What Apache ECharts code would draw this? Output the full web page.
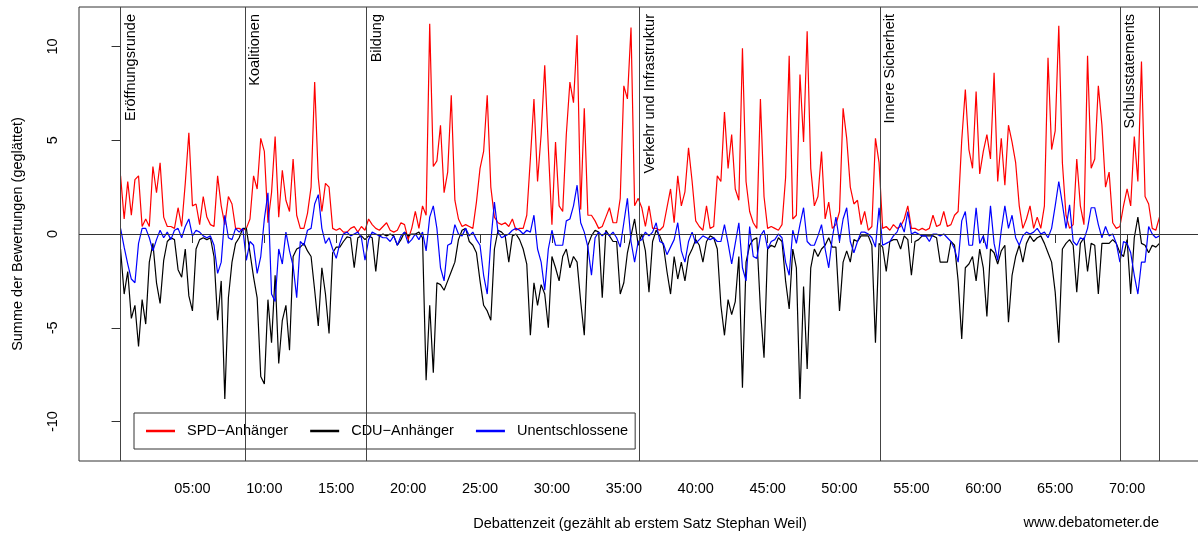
<!DOCTYPE html>
<html><head><meta charset="utf-8">
<script src="https://cdn.jsdelivr.net/npm/echarts@6/dist/echarts.min.js"></script>
<style>html,body{margin:0;padding:0;background:#fff}#c{width:1198px;height:536px}</style>
</head><body><div id="c"></div>
<script>
// sampling of the debate time axis (minutes)
const T_START = 0, T_STEP = 0.25;

// SPD-Anhänger (4 values per minute)
const spd = [
 3.1,0.8,2.8,1.0,  2.9,3.1,0.4,0.8,  0.4,3.6,2.2,3.8,  0.9,0.4,0.4,0.3,  1.4,0.4,2.7,5.4,
 1.5,1.6,0.5,2.0,  0.9,0.5,0.4,3.1,  1.5,0.5,2.0,1.6,  0.3,0.3,0.2,0.3,  0.8,3.1,2.4,5.1,
 4.4,0.6,2.2,5.2,  0.9,3.4,1.8,1.2,  4.0,1.0,0.3,0.3,  1.1,2.5,8.1,3.0,  1.2,2.7,2.5,0.3,
 0.2,0.3,0.1,0.1,  0.3,0.4,0.1,0.4,  0.2,0.8,0.5,0.3,  0.2,0.4,0.6,0.2,  0.1,0.2,0.6,0.5,
 -0.3,0.3,1.2,0.3, 1.5,1.0,11.2,3.6, 3.9,5.8,2.2,3.3,  7.4,1.8,0.8,0.4,  0.5,0.4,0.3,1.7,
 3.5,4.4,7.4,2.5,  0.9,0.6,0.5,0.6,  0.4,0.8,0.2,0.3,  0.3,1.0,4.0,7.2,  2.8,5.3,9.0,4.6,
 0.5,4.9,1.5,1.2,  5.3,8.1,7.0,10.6, 1.3,6.7,1.0,1.0,  0.7,0.3,0.4,0.9,  1.4,0.6,0.6,1.9,
 7.9,7.2,11.0,1.5, 1.9,1.4,0.4,1.5,  0.3,0.3,0.2,0.4,  1.4,2.4,0.6,3.1,  1.5,2.25,4.6,2.8,
 0.7,0.4,0.2,1.5,  0.3,0.4,3.1,2.8,  6.5,3.5,5.3,2.4,  1.8,9.9,2.8,1.2,  0.6,0.3,7.2,2.0,
 0.3,0.4,0.3,0.2,  0.5,3.0,9.5,0.8,  1.0,8.5,4.9,10.8, 3.5,1.5,2.0,4.4,  0.8,1.7,0.3,0.5,
 1.2,6.7,5.1,2.5,  1.6,1.8,0.5,1.2,  0.2,0.4,5.1,3.8,  0.3,0.4,0.2,0.5,  0.3,0.4,0.8,1.5,
 0.3,0.3,0.2,0.3,  0.2,0.3,1.0,0.4,  0.5,1.2,0.4,0.5,  1.0,1.2,5.0,7.7,  4.5,3.5,7.6,3.2,
 4.4,5.3,4.0,8.6,  2.8,5.1,2.6,5.8,  4.9,3.8,1.5,0.3,  0.8,1.5,0.3,0.9,  0.3,1.5,9.4,4.5,
 5.5,11.1,3.8,1.0, 0.3,0.5,4.0,1.5,  0.5,9.5,3.5,4.0,  7.9,5.8,2.5,3.3,  0.6,0.3,0.4,1.5,
 2.4,1.5,5.2,2.8,  9.2,2.0,1.6,0.3,  0.2,0.9
];

// CDU-Anhänger
const cdu = [
 -0.8,-3.2,-2.0,-4.5,  -3.8,-6.0,-3.5,-4.8,  -1.5,-0.5,-2.6,-3.7,  -1.4,-0.4,-0.2,-0.3,  -1.9,-2.3,-0.8,-3.3,
 -4.1,-0.8,-0.3,-0.2,  -0.3,-0.2,-1.2,-4.6,  -2.5,-8.8,-3.4,-1.5,  -0.5,-0.2,0.3,0.3,    -1.0,-2.3,-3.4,-7.6,
 -8.0,-3.5,-5.8,-2.2,  -6.9,-4.6,-3.8,-6.2,  -1.2,-0.8,-0.7,-0.5,  -0.9,-1.2,-3.0,-4.9,  -1.8,-3.2,-5.3,-1.0,
 -0.7,-0.7,-0.4,-0.15, -0.2,-1.8,-0.2,-0.1,  -0.3,-0.1,-0.2,-2.0,  -0.1,0.0,-0.1,0.0,    -0.1,-0.6,-0.3,0.1,
 -0.1,0.0,0.0,0.1,     -0.2,-7.8,-3.8,-7.4,  -2.6,-2.7,-3.0,-2.5,  -2.0,-1.5,-0.3,0.2,   0.3,-0.4,-0.6,-1.0,
 -2.5,-3.8,-4.1,-4.6,  -0.8,0.2,0.1,-0.1,    -1.5,-0.1,0.0,-0.3,   -0.8,-1.6,-5.4,-2.6,  -3.8,-2.7,-3.2,-5.0,
 -1.2,-1.8,-2.5,-1.2,  -0.8,-1.8,-1.2,-1.5,  -3.6,-5.4,-0.6,-0.1,  0.2,0.1,-3.4,0.2,     -0.1,-0.4,-0.4,-3.2,
 -2.6,-1.0,-0.1,0.8,   -0.6,0.0,-0.9,-3.1,   -0.4,0.2,-0.1,-0.6,   -2.0,-3.2,-1.2,-2.4,  -1.5,-2.5,-1.2,-0.8,
 -0.3,-0.6,-1.5,-0.4,  -0.1,-0.2,-0.8,-3.8,  -5.4,-3.5,-4.3,-3.6,  -1.2,-8.2,-1.5,-0.6,  -0.3,-0.2,-4.0,-6.6,
 -0.8,-0.6,-0.7,-0.2,  -0.4,-2.5,-4.0,-0.8,  -1.8,-8.8,-2.8,-7.2,  -1.8,-0.8,-1.2,-0.8,  -0.6,-0.2,-0.7,-0.7,
 -4.1,-1.5,-0.9,-1.5,  -0.3,-0.4,-0.1,-0.1,  -0.1,-0.6,-5.8,-0.5,  -0.7,-2.0,-0.4,-0.3,  -0.3,-0.8,-0.1,-0.3,
 -2.2,-0.4,-0.3,-0.1,  -0.1,-0.1,-0.1,-0.2,  -1.5,-1.5,-1.5,-0.4,  -0.6,-2.5,-5.6,-1.8,  -1.6,-1.2,-2.5,-0.8,
 -1.8,-4.4,-0.8,-1.0,  -1.6,-0.9,-0.6,-4.7,  -2.2,-1.2,-0.6,-1.5,  -0.5,-0.1,-0.4,-0.2,  -0.1,-0.5,-1.0,-1.5,
 -3.1,-5.8,-0.8,-0.5,  -0.3,-0.6,-3.1,-0.5,  -0.2,-2.0,-0.5,-0.6,  -3.2,-0.5,-0.5,-0.5,  -0.3,-0.5,-1.0,-1.2,
 -0.3,-3.2,-0.2,0.9,   -0.5,-0.6,-1.0,-0.6,  -0.7,-0.5
];

// Unentschlossene
const und = [
 0.3,-0.7,-1.6,-2.4,  -2.6,-0.5,0.3,0.3,   -0.2,-0.9,-0.3,0.2,  -0.2,0.1,-0.3,0.2,   0.3,-0.2,0.4,0.8,
 -0.1,0.2,0.1,-0.1,   -0.2,-0.1,-0.6,-2.1, -1.5,1.0,-0.2,-0.3,  0.3,0.1,0.3,-1.4,    -0.4,-0.6,-2.1,-1.2,
 0.8,2.2,-3.2,-3.6,   -0.8,-1.6,0.1,-0.9,  -1.7,-3.4,-0.4,-0.6, 0.2,0.3,1.6,2.1,     0.3,-0.5,-0.2,-0.8,
 -1.3,-0.5,0.0,0.1,   -0.1,0.0,0.1,-0.2,   -1.4,-0.3,0.1,0.0,   -0.1,-0.2,-0.2,-0.4,  -0.1,-0.6,-0.1,0.1,
 -0.5,-0.3,0.0,-0.3,  0.1,-0.9,0.9,1.5,    0.3,-1.8,-2.5,-0.6,  -0.5,0.5,0.0,-0.1,   0.3,-0.1,0.1,-0.3,
 -0.6,-2.2,-3.2,-0.4, 1.7,0.1,-0.2,-0.1,   0.0,0.2,0.3,0.2,     0.0,0.2,0.1,1.0,      -0.8,-1.5,-3.0,-0.8,
 0.2,-0.6,-0.6,-0.6,  0.7,0.8,1.5,2.6,     0.6,0.1,-0.7,-2.2,   -0.2,0.1,-0.1,0.1,    -0.1,0.1,-0.2,-0.7,
 0.6,1.9,-0.4,-1.5,   -0.4,-0.3,0.1,-0.1,  0.1,0.6,-0.4,-0.5,   -1.1,-0.7,-0.3,0.6,   -0.9,-1.5,-0.4,0.1,
 -0.5,-0.3,-0.1,-0.2, -0.3,-0.2,-0.4,-0.4, 0.5,-0.5,-1.6,-0.5,  0.6,-1.8,-2.5,0.4,    -1.2,-1.3,-0.1,0.2,
 -0.8,-0.4,-0.3,0.0,  -0.2,-1.5,-2.2,0.2,  -0.5,0.5,1.4,-0.4,   -0.6,-0.6,-0.1,0.5,   -0.8,-1.8,-0.2,0.9,
 -0.4,0.8,1.4,-0.4,   -1.0,-0.4,0.1,0.1,   0.0,-0.2,-0.7,1.4,   -0.6,-0.5,-0.4,-0.1,  0.1,0.6,0.1,1.2,
 0.0,0.1,0.0,-0.1,    -0.1,-0.4,0.0,0.0,   -0.1,0.0,-0.2,-0.4,  -0.8,-1.5,0.7,1.2,    -0.6,-0.6,1.4,-0.5,
 -0.1,-0.8,1.5,-0.5,  -1.4,0.2,1.5,0.3,    1.0,-0.2,-0.6,-0.1,  0.1,0.0,0.1,0.3,      0.0,0.1,-0.2,0.3,
 1.5,2.8,1.6,0.3,     1.55,-0.4,-0.6,-0.2, -0.3,0.3,1.4,1.4,    0.5,-0.2,0.4,-0.1,    0.0,-0.5,-1.5,-0.4,
 -0.5,-1.0,-2.2,-3.2, -1.5,-1.5,0.4,0.0,   -0.2,-0.1
];

// debate sections (start minute) and labels
const sectionTimes = [0, 8.65, 17.1, 36.1, 52.8, 69.5, 72.25];
const sectionNames = ['Eröffnungsrunde', 'Koalitionen', 'Bildung', 'Verkehr und Infrastruktur', 'Innere Sicherheit', 'Schlusstatements', ''];

// axis ticks
const xTicks = [5, 10, 15, 20, 25, 30, 35, 40, 45, 50, 55, 60, 65, 70];
const yTicks = [-10, -5, 0, 5, 10];
const seriesNames = ['SPD\u2212Anhänger', 'CDU\u2212Anhänger', 'Unentschlossene'];
const seriesColors = ['#ff0000', '#000000', '#0000ff'];

const FONT = 'Liberation Sans, Arial, Helvetica, sans-serif';
const FS = 14.5;

const times = spd.map((_, i) => T_START + i * T_STEP);
const pairs = arr => arr.map((v, i) => [times[i], v]);

const chart = echarts.init(document.getElementById('c'), null, {renderer: 'canvas', width: 1198, height: 536});

const sectionLines = sectionTimes.map((t, i) => ({
  xAxis: t,
  label: {
    show: sectionNames[i] !== '',
    formatter: sectionNames[i],
    position: 'insideEndBottom',
    distance: [7, 3],
    color: '#000',
    fontSize: FS,
    fontFamily: FONT
  }
}));

chart.setOption({
  animation: false,
  color: seriesColors,
  textStyle: {fontFamily: FONT},
  grid: {
    left: 79, width: 1122, top: 7, bottom: 75,
    containLabel: false, outerBoundsMode: 'none',
    show: true, borderColor: '#333', borderWidth: 1, backgroundColor: 'transparent'
  },
  legend: {
    left: 134, top: 413,
    data: seriesNames,
    icon: 'rect',
    itemWidth: 29, itemHeight: 2.5, itemGap: 22,
    padding: [9, 7, 9, 12],
    borderColor: '#333', borderWidth: 1, borderRadius: 0,
    backgroundColor: '#fff',
    textStyle: {fontSize: FS, color: '#000', fontFamily: FONT, lineHeight: 18, padding: [0, 0, 0, 7]}
  },
  xAxis: {
    type: 'value', min: -2.89, max: 75.14,
    splitLine: {show: false},
    axisLine: {show: false},
    axisTick: {show: true, length: 9, customValues: xTicks, lineStyle: {color: '#333'}},
    axisLabel: {
      customValues: xTicks, margin: 20, color: '#000', fontSize: FS, fontFamily: FONT,
      formatter: v => (v < 10 ? '0' : '') + v + ':00'
    },
    name: 'Debattenzeit (gezählt ab erstem Satz Stephan Weil)',
    nameLocation: 'middle', nameGap: 55,
    nameTextStyle: {color: '#000', fontSize: FS, fontFamily: FONT}
  },
  yAxis: {
    type: 'value', min: -12.1, max: 12.1,
    splitLine: {show: false},
    axisLine: {show: false},
    axisTick: {show: true, length: 9, customValues: yTicks, lineStyle: {color: '#333'}},
    axisLabel: {customValues: yTicks, rotate: 90, margin: 19, color: '#000', fontSize: FS, fontFamily: FONT},
    name: 'Summe der Bewertungen (geglättet)',
    nameLocation: 'middle', nameGap: 54, nameRotate: 90,
    nameTextStyle: {color: '#000', fontSize: FS, fontFamily: FONT}
  },
  graphic: [{
    type: 'text', right: 39, top: 515,
    style: {text: 'www.debatometer.de', fill: '#000', font: FS + 'px ' + FONT, textAlign: 'right'}
  }],
  series: [
    {
      name: seriesNames[0], type: 'line', data: pairs(spd), showSymbol: false, symbol: 'none',
      lineStyle: {width: 1.2, color: seriesColors[0]}, z: 2,
      markLine: {
        silent: true, symbol: 'none', animation: false,
        lineStyle: {color: '#444', width: 1, type: 'solid'},
        data: sectionLines
      }
    },
    {
      name: seriesNames[1], type: 'line', data: pairs(cdu), showSymbol: false, symbol: 'none',
      lineStyle: {width: 1.2, color: seriesColors[1]}, z: 3
    },
    {
      name: seriesNames[2], type: 'line', data: pairs(und), showSymbol: false, symbol: 'none',
      lineStyle: {width: 1.2, color: seriesColors[2]}, z: 4,
      markLine: {
        silent: true, symbol: 'none', animation: false,
        lineStyle: {color: '#333', width: 1, type: 'solid'},
        label: {show: false},
        data: [{yAxis: 0}]
      }
    }
  ]
});
</script>
</body></html>
